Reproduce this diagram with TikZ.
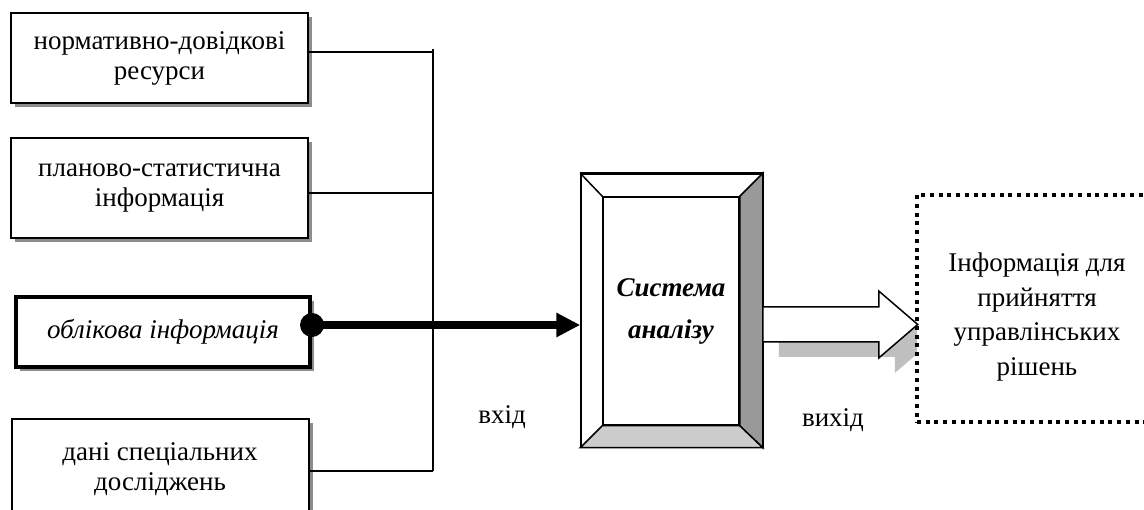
\documentclass[tikz,border=0pt]{standalone}
\usepackage{fontspec}
\setmainfont{Liberation Serif}
\usetikzlibrary{shadows}
\usetikzlibrary{arrows.meta}
\tikzset{
	box_src/.style = {
		rectangle,
		draw=black,
		fill=white,
		line width=2pt,
		align=center,
		inner sep=0pt,
		text centered,
		font=\fontsize{27}{30}\selectfont,
		minimum width=297pt,
		drop shadow={shadow xshift=4pt, shadow yshift=-4pt, fill=gray!90, opacity=1}
	},
	box_src_bold/.style = {
		box_src,
		line width=4pt,
		font=\fontsize{27}{30}\selectfont\itshape
	},
	box_sys/.style = {
		rectangle,
		draw=black,
		fill=white,
		line width=1.5pt,
		inner sep=0pt
	},
	box_out/.style = {
		rectangle,
		draw=black,
		fill=white,
		line width=4pt,
		dash pattern=on 4pt off 4.7pt,
		inner sep=0pt,
		minimum width=243pt,
		minimum height=227pt
	},
	label_txt/.style = {
		align=center,
		inner sep=0pt,
		font=\fontsize{27}{34.5}\selectfont
	},
	bus/.style = {
		line width=2pt
	}
}
\begin{document}
\begin{tikzpicture}[x=1pt, y=-1pt]
\useasboundingbox (0,0) rectangle (1144,510);
% source boxes
\node [box_src, minimum height=90pt] (res) at (159.5,58) {нормативно-довідкові\\ресурси};
\node [box_src, minimum height=100pt] (plan) at (159.5,188) {планово-статистична\\інформація};
\node [box_src_bold, minimum width=294pt, minimum height=70pt] (oblik) at (163,332) {облікова інформація};
\node [box_src, minimum height=100pt] (dani) at (160,469) {дані спеціальних\\досліджень};
% bus
\coordinate (bus_top) at (433,49);
\coordinate (bus_bot) at (433,471);
\draw [bus] (bus_top) -- (bus_bot);
\coordinate (res_out) at ([yshift=6pt]res.east);
\coordinate (plan_out) at ([yshift=-5pt]plan.east);
\coordinate (dani_out) at ([yshift=-2pt]dani.east);
\draw [bus] (res_out) -- (res_out -| bus_top);
\draw [bus] (plan_out) -- (plan_out -| bus_top);
\draw [bus] (dani_out) -- (dani_out -| bus_top);
% system
\node [box_sys, minimum width=181pt, minimum height=273pt] (sys) at (671.5,310.5) {};
\node [box_sys, minimum width=136pt, minimum height=228pt] (sys_in) at (671,311) {};
\filldraw [line width=1.5pt, fill=gray!80] (sys.north east) -- (sys_in.north east) -- (sys_in.south east) -- (sys.south east) -- cycle;
\filldraw [line width=1.5pt, fill=gray!40] (sys.south west) -- (sys_in.south west) -- (sys_in.south east) -- (sys.south east) -- cycle;
\draw [line width=1.5pt] (sys.north west) -- (sys_in.north west);
\draw [line width=1.5pt] (sys.north west) rectangle (sys.south east);
\node [label_txt, font=\fontsize{27}{42}\selectfont\bfseries\itshape] (sys_txt) at (sys_in.center) {Система\\аналізу};
% input arrow
\coordinate (oblik_out) at ([yshift=7pt]oblik.east);
\draw [line width=8pt, -{Triangle[length=24pt, width=23pt]}] (oblik_out) -- (oblik_out -| sys.west);
\fill (oblik_out) circle (12pt);
% output
\coordinate (arr_s) at ([yshift=-14pt]sys.east);
\fill [gray!50] ([shift={(16,15)}]arr_s) ++(0,-17.5) -- ++(116,0) -- ++(0,-16) -- ++(39,33.5) -- ++(-39,33.5) -- ++(0,-16) -- ++(-116,0) -- cycle;
\node [box_out] (rishennia) at (1038.5,308.5) {};
\filldraw [line width=1.5pt, fill=white] (arr_s) ++(0,-17.5) -- ++(116,0) -- ++(0,-16) -- ++(39,33.5) -- ++(-39,33.5) -- ++(0,-16) -- ++(-116,0) -- cycle;
\node [label_txt] (rishennia_txt) at (1037,317) {Інформація для\\прийняття\\управлінських\\рішень};
\node [label_txt] (vhid) at (502,417) {вхід};
\node [label_txt] (vyhid) at (833,420) {вихід};
\end{tikzpicture}
\end{document}
